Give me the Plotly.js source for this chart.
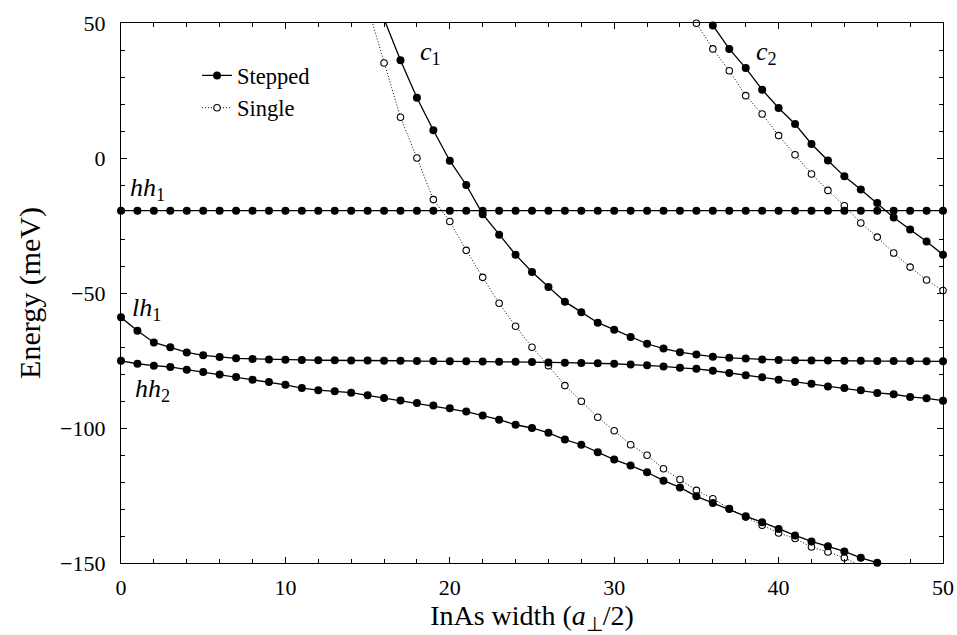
<!DOCTYPE html>
<html>
<head>
<meta charset="utf-8">
<script src="https://cdn.plot.ly/plotly-3.0.1.min.js"></script>
<style>
  html, body { margin: 0; padding: 0; background: #ffffff; }
  #chart { width: 957px; height: 635px; }
</style>
</head>
<body>
<div id="chart"></div>
<script>
// ---------- data ----------
// Stepped structure
const hh1X = [0,1,2,3,4,5,6,7,8,9,10,11,12,13,14,15,16,17,18,19,20,21,22,23,24,25,26,27,28,29,30,31,32,33,34,35,36,37,38,39,40,41,42,43,44,45,46,47,48,49,50];
const hh1Y = [-19.5,-19.5,-19.5,-19.5,-19.5,-19.5,-19.5,-19.5,-19.5,-19.5,-19.5,-19.5,-19.5,-19.5,-19.5,-19.5,-19.5,-19.5,-19.5,-19.5,-19.5,-19.5,-19.5,-19.5,-19.5,-19.5,-19.5,-19.5,-19.5,-19.5,-19.5,-19.5,-19.5,-19.5,-19.5,-19.5,-19.5,-19.5,-19.5,-19.5,-19.5,-19.5,-19.5,-19.5,-19.5,-19.5,-19.5,-19.5,-19.5,-19.5,-19.5];

const lh1X = [0,1,2,3,4,5,6,7,8,9,10,11,12,13,14,15,16,17,18,19,20,21,22,23,24,25,26,27,28,29,30,31,32,33,34,35,36,37,38,39,40,41,42,43,44,45,46,47,48,49,50];
const lh1Y = [-59.0,-64.0,-68.3,-70.1,-72.0,-73.1,-73.7,-74.2,-74.4,-74.6,-74.7,-74.8,-74.9,-74.9,-75.0,-75.0,-75.1,-75.1,-75.2,-75.2,-75.3,-75.3,-75.4,-75.5,-75.5,-75.6,-75.7,-75.8,-75.9,-76.0,-76.2,-76.5,-76.8,-77.2,-77.7,-78.1,-78.8,-79.6,-80.5,-81.2,-82.1,-83.0,-83.6,-84.6,-85.2,-86.0,-87.0,-87.5,-88.5,-89.0,-89.9];

const hh2X = [0,1,2,3,4,5,6,7,8,9,10,11,12,13,14,15,16,17,18,19,20,21,22,23,24,25,26,27,28,29,30,31,32,33,34,35,36,37,38,39,40,41,42,43,44,45,46];
const hh2Y = [-75.1,-76.2,-76.9,-77.4,-78.4,-79.3,-80.2,-81.1,-82.1,-83.0,-84.0,-85.2,-86.0,-86.4,-86.9,-87.9,-88.9,-89.8,-90.7,-91.7,-92.7,-93.9,-95.4,-96.9,-98.8,-100.0,-101.8,-104.3,-106.2,-109.0,-111.7,-113.9,-116.4,-119.5,-122.0,-125.3,-127.8,-130.0,-132.7,-134.9,-137.4,-139.8,-142.0,-143.8,-145.7,-148.1,-149.9];

const c1StepX = [16,17,18,19,20,21,22,23,24,25,26,27,28,29,30,31,32,33,34,35,36,37,38,39,40,41,42,43,44,45,46,47,48,49,50];
const c1StepY = [51.5,36.2,22.3,10.3,-1.0,-10.0,-20.8,-28.4,-35.8,-42.2,-47.8,-53.2,-57.1,-61.0,-63.6,-66.3,-68.8,-70.6,-71.9,-72.8,-73.6,-74.0,-74.3,-74.6,-74.8,-74.9,-75.0,-75.0,-75.1,-75.1,-75.2,-75.2,-75.2,-75.3,-75.3];

const c2StepX = [35,36,37,38,39,40,41,42,43,44,45,46,47,48,49,50];
const c2StepY = [58.5,49.1,40.4,33.3,25.3,18.5,12.6,5.2,-0.9,-6.8,-11.7,-16.7,-22.0,-26.5,-30.9,-35.8];

// Single structure
const c1SingleX = [15,16,17,18,19,20,21,22,23,24,25,26,27,28,29,30,31,32,33,34,35,36,37,38,39,40,41,42,43,44,45];
const c1SingleY = [56.0,35.2,15.1,0.0,-15.4,-23.5,-34.2,-44.2,-53.8,-62.3,-70.1,-76.9,-84.3,-90.1,-96.0,-101.0,-106.2,-110.1,-115.1,-119.1,-123.1,-126.2,-129.8,-133.0,-136.0,-138.9,-140.9,-144.1,-145.9,-148.1,-151.0];

const c2SingleX = [34,35,36,37,38,39,40,41,42,43,44,45,46,47,48,49,50];
const c2SingleY = [61.0,49.9,40.4,32.3,23.1,16.3,8.3,1.2,-5.9,-12.0,-17.7,-24.1,-29.3,-35.2,-40.4,-45.2,-49.1];

// labels
const seriesNames = ["Stepped", "Single"];
const xTitle = "InAs width (<i>a</i><sub>⊥</sub>/2)";
const yTitle = "Energy (meV)";
const levelLabels = [
  {text: "<i>c</i><sub>1</sub>", x: 18.85, y: 39},
  {text: "<i>c</i><sub>2</sub>", x: 39.25, y: 39},
  {text: "<i>hh</i><sub>1</sub>", x: 1.6, y: -11.5},
  {text: "<i>lh</i><sub>1</sub>", x: 1.55, y: -56},
  {text: "<i>hh</i><sub>2</sub>", x: 1.9, y: -86}
];

// ---------- styling ----------
const FONT = "Liberation Serif, Times New Roman, serif";
const stepStyle = {
  mode: "lines+markers",
  line: {color: "#000", width: 1.3},
  marker: {symbol: "circle", size: 8, color: "#000"},
  cliponaxis: false,
  legendgroup: "stepped",
  name: seriesNames[0],
  showlegend: false,
  hoverinfo: "x+y"
};
const singleStyle = {
  mode: "lines+markers",
  line: {color: "#000", width: 1, dash: "1px,2px"},
  marker: {symbol: "circle", size: 6.5, color: "#fff", line: {color: "#000", width: 1.1}},
  cliponaxis: false,
  legendgroup: "single",
  name: seriesNames[1],
  showlegend: false,
  hoverinfo: "x+y"
};

function mk(base, x, y, extra) {
  return Object.assign({}, base, {x: x, y: y}, extra || {});
}

const traces = [
  mk(singleStyle, c1SingleX, c1SingleY, {showlegend: true, legendrank: 2}),
  mk(singleStyle, c2SingleX, c2SingleY),
  mk(stepStyle, hh1X, hh1Y, {showlegend: true, legendrank: 1}),
  mk(stepStyle, lh1X, lh1Y),
  mk(stepStyle, hh2X, hh2Y),
  mk(stepStyle, c1StepX, c1StepY),
  mk(stepStyle, c2StepX, c2StepY)
];

const axisCommon = {
  showgrid: false,
  zeroline: false,
  showline: true,
  linecolor: "#000",
  linewidth: 1.3,
  mirror: "allticks",
  ticks: "inside",
  ticklen: 6,
  tickwidth: 1,
  tickcolor: "#000",
  tickfont: {family: FONT, size: 22, color: "#000"}
};

const layout = {
  width: 957,
  height: 635,
  margin: {l: 121, r: 14, t: 23, b: 72},
  paper_bgcolor: "#fff",
  plot_bgcolor: "#fff",
  font: {family: FONT, color: "#000"},
  showlegend: true,
  legend: {
    x: 0.0925, y: 0.942, xanchor: "left", yanchor: "top",
    bgcolor: "rgba(0,0,0,0)",
    font: {family: FONT, size: 22.5, color: "#000"},
    tracegroupgap: 0,
    traceorder: "normal"
  },
  xaxis: Object.assign({}, axisCommon, {
    range: [0, 50],
    tick0: 0, dtick: 10,
    minor: {dtick: 2, ticks: "inside", ticklen: 4, tickcolor: "#000", tickwidth: 1},
    ticklabelstandoff: 4,
    title: {text: xTitle, font: {family: FONT, size: 28, color: "#000"}, standoff: 12}
  }),
  yaxis: Object.assign({}, axisCommon, {
    range: [-150, 50],
    tick0: -150, dtick: 50,
    minor: {dtick: 10, ticks: "inside", ticklen: 4, tickcolor: "#000", tickwidth: 1},
    ticklabelstandoff: 10,
    title: {text: yTitle, font: {family: FONT, size: 30, color: "#000"}, standoff: 10}
  }),
  annotations: levelLabels.map(l => ({
    text: l.text, x: l.x, y: l.y, xref: "x", yref: "y",
    showarrow: false, font: {family: FONT, size: 26, color: "#000"}
  }))
};

Plotly.newPlot("chart", traces, layout, {displayModeBar: false, responsive: false});
</script>
</body>
</html>
